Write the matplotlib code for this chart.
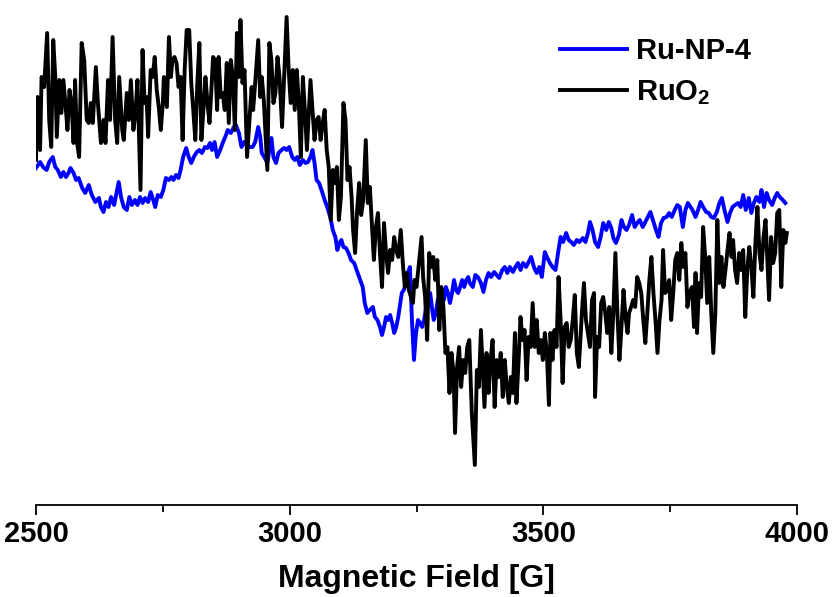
import matplotlib
matplotlib.use("Agg")
import matplotlib.pyplot as plt
from matplotlib.ticker import MultipleLocator
import numpy as np

# EPR spectra, field in G, signal in arbitrary units
ru_np4_field = [2500, 2508, 2514, 2521, 2526, 2533, 2538, 2543, 2549, 2554, 2559, 2564, 2568, 2574, 2579, 2584,
                2591, 2597, 2604, 2610, 2617, 2624, 2628, 2633, 2638, 2643, 2648, 2654, 2659, 2663, 2668, 2673,
                2679, 2684, 2689, 2695, 2700, 2705, 2710, 2715, 2721, 2726, 2731, 2735, 2740, 2746, 2751, 2756,
                2762, 2767, 2771, 2776, 2781, 2785, 2790, 2796, 2801, 2806, 2811, 2817, 2822, 2827, 2833, 2838,
                2843, 2847, 2852, 2857, 2863, 2868, 2873, 2878, 2884, 2889, 2894, 2900, 2905, 2910, 2915, 2920,
                2927, 2932, 2938, 2942, 2945, 2951, 2956, 2960, 2964, 2968, 2973, 2978, 2984, 2989, 2994, 2999,
                3005, 3010, 3015, 3020, 3026, 3031, 3036, 3041, 3045, 3049, 3053, 3058, 3064, 3069, 3074, 3080,
                3085, 3090, 3094, 3098, 3102, 3106, 3111, 3116, 3121, 3127, 3132, 3137, 3144, 3148, 3153, 3158,
                3164, 3168, 3173, 3178, 3182, 3186, 3190, 3194, 3198, 3202, 3206, 3210, 3214, 3217, 3221, 3225,
                3229, 3233, 3237, 3241, 3245, 3249, 3253, 3257, 3261, 3265, 3269, 3273, 3277, 3281, 3284, 3288,
                3292, 3296, 3300, 3304, 3308, 3312, 3316, 3320, 3324, 3328, 3332, 3336, 3340, 3344, 3348, 3352,
                3355, 3361, 3366, 3371, 3377, 3382, 3387, 3392, 3397, 3403, 3408, 3413, 3419, 3424, 3429, 3434,
                3440, 3445, 3450, 3455, 3460, 3466, 3471, 3476, 3482, 3487, 3492, 3497, 3503, 3508, 3513, 3518,
                3524, 3529, 3534, 3539, 3545, 3550, 3555, 3560, 3566, 3571, 3578, 3583, 3588, 3592, 3597, 3602,
                3608, 3613, 3618, 3624, 3629, 3634, 3638, 3643, 3649, 3654, 3659, 3664, 3669, 3675, 3680, 3685,
                3690, 3696, 3701, 3706, 3711, 3716, 3722, 3727, 3732, 3737, 3743, 3748, 3753, 3759, 3764, 3769,
                3775, 3780, 3785, 3794, 3800, 3805, 3810, 3815, 3821, 3826, 3831, 3836, 3842, 3847, 3852, 3857,
                3863, 3868, 3873, 3878, 3884, 3889, 3894, 3899, 3905, 3910, 3915, 3920, 3926, 3930, 3935, 3940,
                3945, 3951, 3956, 3961, 3966, 3972, 3977]
ru_np4_signal = [112, 118, 113, 110, 118, 123, 113, 110, 103, 108, 103, 107, 112, 107, 100, 102,
                 92, 87, 95, 85, 78, 82, 73, 68, 78, 73, 83, 75, 88, 98, 82, 73,
                 70, 83, 75, 80, 75, 83, 77, 82, 78, 88, 80, 73, 85, 83, 90, 102,
                 100, 103, 100, 105, 102, 110, 123, 132, 123, 117, 123, 128, 130, 127, 133, 132,
                 137, 130, 138, 123, 130, 137, 143, 150, 147, 152, 155, 147, 133, 138, 135, 133,
                 133, 138, 153, 143, 127, 122, 117, 130, 142, 123, 117, 127, 130, 132, 130, 133,
                 123, 120, 123, 115, 120, 117, 118, 123, 130, 117, 100, 97, 88, 80, 73, 63,
                 50, 43, 30, 37, 40, 33, 32, 27, 20, 17, 10, 3, -7, -23, -33, -30,
                 -27, -37, -40, -47, -55, -47, -37, -40, -35, -43, -53, -47, -37, -27, -13, -10,
                 -3, 7, 13, -40, -80, -53, -40, -43, -47, -40, -27, -20, -13, -30, -40, -33,
                 -20, -13, -10, -20, -7, -13, -23, -13, 0, -10, -13, -7, 0, -7, 0, 3,
                 -3, -7, 5, 3, -3, -12, 0, 7, 3, 8, 5, 2, 10, 13, 7, 13,
                 8, 13, 17, 10, 17, 13, 18, 23, 12, 7, 13, 3, 28, 22, 17, 13,
                 10, 27, 43, 38, 47, 40, 38, 35, 40, 38, 42, 38, 47, 58, 50, 38,
                 33, 43, 57, 50, 58, 52, 42, 37, 45, 60, 53, 50, 55, 65, 53, 57,
                 60, 53, 58, 63, 68, 60, 50, 43, 57, 62, 63, 67, 63, 70, 75, 73,
                 53, 70, 77, 70, 63, 70, 78, 73, 68, 67, 63, 62, 68, 77, 82, 70,
                 58, 67, 73, 75, 77, 73, 85, 70, 82, 67, 77, 83, 78, 90, 73, 87,
                 80, 75, 82, 87, 83, 80, 77]

ruo2_field = [2500, 2503, 2508, 2511, 2516, 2522, 2526, 2530, 2534, 2538, 2541, 2546, 2550, 2554, 2559, 2562,
              2566, 2570, 2574, 2577, 2581, 2585, 2590, 2595, 2600, 2604, 2608, 2612, 2618, 2622, 2628, 2633,
              2637, 2642, 2646, 2651, 2656, 2660, 2664, 2670, 2673, 2679, 2683, 2687, 2692, 2696, 2700, 2706,
              2710, 2714, 2718, 2721, 2726, 2730, 2734, 2738, 2742, 2746, 2750, 2752, 2758, 2762, 2766, 2769,
              2773, 2777, 2781, 2785, 2789, 2793, 2797, 2802, 2806, 2810, 2814, 2818, 2822, 2826, 2830, 2834,
              2838, 2842, 2846, 2849, 2853, 2857, 2860, 2864, 2868, 2872, 2876, 2880, 2884, 2888, 2892, 2896,
              2900, 2903, 2907, 2911, 2916, 2922, 2925, 2928, 2932, 2938, 2942, 2945, 2949, 2956, 2960, 2964,
              2968, 2972, 2976, 2980, 2985, 2989, 2994, 2998, 3002, 3006, 3010, 3014, 3018, 3022, 3026, 3030,
              3034, 3038, 3041, 3045, 3049, 3053, 3057, 3061, 3065, 3069, 3073, 3077, 3081, 3085, 3089, 3093,
              3097, 3101, 3106, 3110, 3114, 3118, 3122, 3125, 3129, 3133, 3137, 3141, 3145, 3150, 3154, 3158,
              3162, 3166, 3170, 3174, 3178, 3182, 3186, 3190, 3194, 3198, 3202, 3206, 3210, 3214, 3219, 3223,
              3227, 3231, 3235, 3239, 3243, 3246, 3250, 3254, 3260, 3263, 3267, 3271, 3275, 3279, 3283, 3287,
              3291, 3295, 3299, 3303, 3307, 3311, 3315, 3319, 3323, 3326, 3330, 3334, 3338, 3342, 3346, 3350,
              3354, 3359, 3365, 3369, 3373, 3377, 3380, 3384, 3388, 3392, 3396, 3400, 3404, 3408, 3412, 3416,
              3420, 3424, 3428, 3432, 3436, 3440, 3444, 3447, 3451, 3455, 3459, 3463, 3467, 3471, 3475, 3479,
              3483, 3487, 3491, 3495, 3499, 3503, 3507, 3511, 3514, 3518, 3522, 3526, 3530, 3534, 3538, 3542,
              3546, 3550, 3554, 3558, 3562, 3566, 3570, 3576, 3580, 3584, 3592, 3596, 3600, 3602, 3606, 3610,
              3614, 3618, 3622, 3626, 3630, 3634, 3638, 3642, 3646, 3650, 3654, 3658, 3662, 3666, 3669, 3673,
              3677, 3681, 3685, 3689, 3693, 3697, 3701, 3705, 3709, 3713, 3717, 3721, 3725, 3729, 3733, 3736,
              3740, 3744, 3748, 3752, 3756, 3760, 3764, 3768, 3772, 3776, 3780, 3784, 3788, 3793, 3797, 3800,
              3803, 3807, 3811, 3815, 3819, 3823, 3827, 3831, 3835, 3839, 3843, 3847, 3851, 3855, 3859, 3863,
              3867, 3871, 3874, 3878, 3882, 3886, 3890, 3894, 3898, 3902, 3906, 3910, 3914, 3918, 3922, 3926,
              3930, 3934, 3938, 3941, 3945, 3949, 3953, 3957, 3961, 3965, 3969, 3973, 3977, 3980]
ruo2_signal = [120, 183, 130, 203, 193, 247, 160, 133, 240, 203, 143, 200, 167, 200, 170, 150,
               190, 177, 137, 200, 137, 123, 237, 220, 160, 157, 177, 157, 213, 177, 137, 160,
               137, 200, 160, 243, 160, 137, 203, 150, 140, 187, 160, 200, 150, 167, 200, 90,
               230, 177, 183, 143, 210, 203, 223, 190, 173, 150, 177, 203, 173, 243, 203, 220,
               223, 217, 193, 203, 140, 210, 250, 250, 197, 170, 140, 197, 237, 140, 170, 203,
               177, 157, 193, 223, 220, 170, 223, 183, 187, 170, 217, 157, 220, 203, 150, 247,
               203, 260, 197, 210, 123, 170, 193, 170, 197, 240, 183, 203, 180, 110, 237, 220,
               177, 187, 223, 203, 153, 203, 263, 210, 177, 210, 170, 210, 177, 123, 203, 170,
               130, 170, 200, 170, 140, 160, 163, 140, 157, 170, 130, 113, 60, 110, 97, 113,
               60, 83, 177, 160, 100, 113, 83, 50, 27, 70, 97, 65, 80, 140, 77, 93,
               57, 20, 53, 67, 27, -7, 57, 27, 7, 30, 20, 43, 30, 23, 50, 17,
               -7, 7, -10, -17, -23, 0, -7, 13, 43, 3, -17, -60, 27, 13, 23, 0,
               20, -50, -7, -27, -73, -67, -113, -73, -93, -153, -87, -67, -107, -80, -93, -67,
               -60, -133, -185, -90, -107, -50, -83, -127, -73, -113, -80, -60, -127, -80, -97, -73,
               -117, -80, -107, -123, -97, -113, -53, -123, -83, -37, -60, -50, -100, -57, -67, -23,
               -67, -40, -73, -60, -80, -53, -73, -125, -53, -80, -50, -67, 3, -40, -103, -47,
               -43, -67, -60, -40, -15, -73, -87, -33, -3, -40, -67, -20, -13, -117, -57, -67,
               -23, -17, -33, -53, -27, -73, -33, 27, -33, -80, -47, -10, -37, -53, -33, -27,
               -20, -27, 3, -3, -13, -40, -63, -33, 0, 23, -13, -40, -73, -40, -20, 30,
               -13, -10, 0, -40, -13, 20, 27, 0, 37, 13, 27, -27, -13, -7, -47, 7,
               -53, -3, -17, 53, 23, -23, 23, -33, -73, -33, 60, -3, 23, -7, 10, 30,
               47, 23, 40, 10, -3, 27, 10, 30, -37, 10, 33, 13, -17, 37, 73, 27,
               10, 43, 60, 27, -20, 43, 17, 27, 67, 70, -7, 50, 37, 47]

plt.rcParams['font.family'] = ['Liberation Sans', 'DejaVu Sans']
plt.rcParams['font.weight'] = 'bold'
plt.rcParams['mathtext.fontset'] = 'custom'
plt.rcParams['mathtext.rm'] = 'Liberation Sans:bold'
plt.rcParams['mathtext.it'] = 'Liberation Sans:bold'
plt.rcParams['mathtext.bf'] = 'Liberation Sans:bold'

fig = plt.figure(figsize=(8.34, 5.97), dpi=100)
ax = fig.add_axes([36 / 834, 92 / 597, 761 / 834, 500 / 597])

ax.plot(ru_np4_field, ru_np4_signal, color='#0000ff', lw=2.8, label='Ru-NP-4')
ax.plot(ruo2_field, ruo2_signal, color='black', lw=2.8, label='RuO$_2$')

ax.set_xlim(2500, 4000)
ax.set_ylim(-225, 275)
ax.xaxis.set_major_locator(MultipleLocator(500))
ax.xaxis.set_minor_locator(MultipleLocator(250))
ax.set_yticks([])
for s in ['left', 'right', 'top']:
    ax.spines[s].set_visible(False)
ax.spines['bottom'].set_linewidth(1.3)
ax.tick_params(axis='x', which='major', length=7, width=1.3, labelsize=21, pad=4)
ax.tick_params(axis='x', which='minor', length=5, width=1.3)
ax.set_xlabel('Magnetic Field [G]', fontsize=23, fontweight='bold', labelpad=11)

ax.legend(loc='upper left', bbox_to_anchor=(560 / 834, 1 - 37 / 597), bbox_transform=fig.transFigure,
          frameon=False, fontsize=21, handlelength=2.3, handletextpad=0.3, labelspacing=0.45,
          borderaxespad=0, borderpad=0)

fig.savefig('out.png', dpi=100)
